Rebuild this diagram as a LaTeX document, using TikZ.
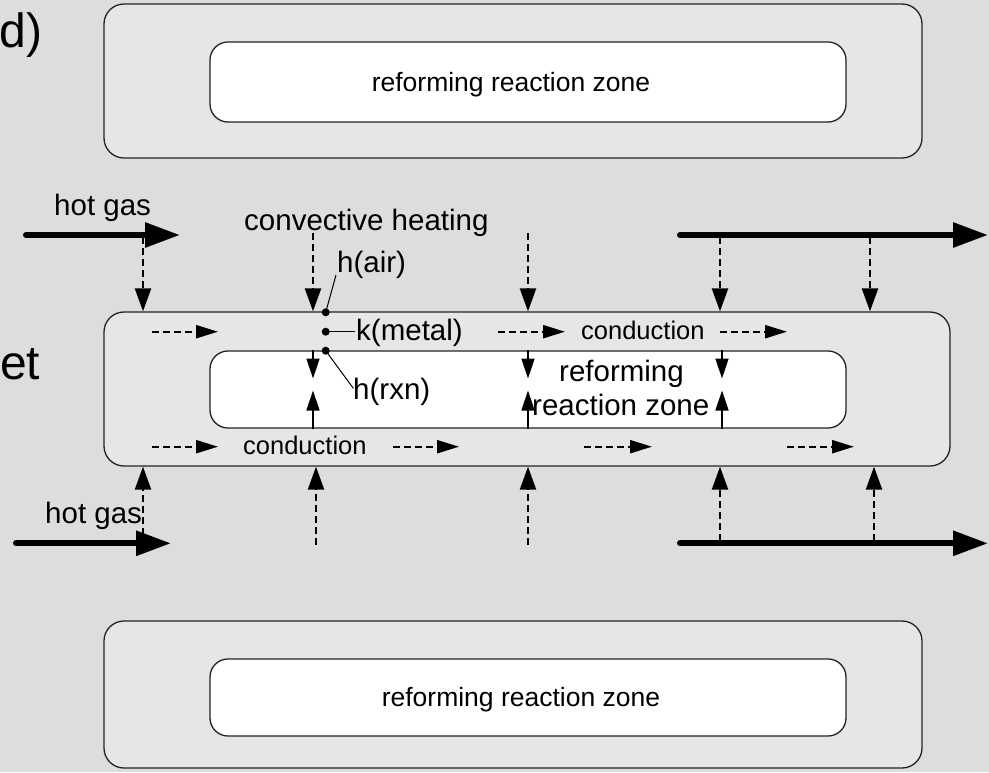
\documentclass[tikz,border=0pt]{standalone}
\usepackage{fontspec}
\setmainfont{Liberation Sans}
\usetikzlibrary{arrows.meta}
\definecolor{bg}{RGB}{221,221,221}
\definecolor{boxfill}{RGB}{230,230,230}
\definecolor{edge}{RGB}{35,35,35}
\begin{document}
\begin{tikzpicture}[x=1pt,y=-1pt,
  outerbox/.style={draw=edge, line width=1.3pt, fill=boxfill, rounded corners=20pt, rectangle, inner sep=0pt},
  innerbox/.style={draw=edge, line width=1.3pt, fill=white, rounded corners=18pt, rectangle, inner sep=0pt},
  hotarrow/.style={line width=6pt, line cap=round, -{Triangle[length=35pt,width=24pt]}},
  heatarrow/.style={line width=2.4pt, dash pattern=on 7pt off 4pt, -{Triangle[length=23pt,width=16pt]}},
  condarrow/.style={line width=2.3pt, dash pattern=on 7pt off 4pt, -{Triangle[length=22pt,width=13pt]}},
  solidarrow/.style={line width=1.5pt, -{Triangle[length=20pt,width=13pt]}},
  lbl/.style={inner sep=0pt, anchor=base west, font=\fontsize{29.5}{34}\selectfont},
  smalllbl/.style={inner sep=0pt, anchor=base west, font=\fontsize{25.5}{30}\selectfont},
  zonelbl/.style={inner sep=0pt, anchor=base, font=\fontsize{26.5}{30}\selectfont},
  biglbl/.style={inner sep=0pt, anchor=base west, font=\fontsize{48}{56}\selectfont},
  dotm/.style={circle, fill=black, inner sep=0pt, minimum size=8pt},
  leader/.style={line width=1pt}
]
\fill[bg] (0,0) rectangle (989,772);
\useasboundingbox (0,0) rectangle (989,772);

% cut-off labels at the left
\node[biglbl] (dlab) at (-0.5,47) {d)};
\node[biglbl] (etlab) at (0,379) {et};

% top block
\node[outerbox, minimum width=818pt, minimum height=154pt] (topout) at (513,81) {};
\node[innerbox, minimum width=636pt, minimum height=80pt] (topin) at (528,82) {};
\node[zonelbl] (toptxt) at (511,91) {reforming reaction zone};

% middle block
\node[outerbox, minimum width=846pt, minimum height=154pt] (mid) at (527,389) {};
\node[innerbox, minimum width=636pt, minimum height=77pt] (midin) at (528,389.5) {};
\node[lbl] (ref1) at (559,381) {reforming};
\node[lbl] (ref2) at (532,415.7) {reaction zone};

% bottom block
\node[outerbox, minimum width=818pt, minimum height=147pt] (botout) at (513,694.5) {};
\node[innerbox, minimum width=636pt, minimum height=77pt] (botin) at (528,697.5) {};
\node[zonelbl] (bottxt) at (521,706) {reforming reaction zone};

% hot gas streams
\coordinate (hgA) at (26,235);
\coordinate (hgAe) at (180,235);
\coordinate (hgB) at (680,235);
\coordinate (hgBe) at (988,235);
\coordinate (hgC) at (16,543.3);
\coordinate (hgCe) at (171,543.3);
\coordinate (hgD) at (680,543.3);
\coordinate (hgDe) at (988,543.3);
\draw[hotarrow] (hgA) -- (hgAe);
\draw[hotarrow] (hgB) -- (hgBe);
\draw[hotarrow] (hgC) -- (hgCe);
\draw[hotarrow] (hgD) -- (hgDe);
\node[lbl] (hgtop) at (54,215) {hot gas};
\node[lbl] (hgbot) at (45,523) {hot gas};
\node[lbl] (conv) at (244,230.7) {convective heating};

% convective heating arrows (top, downward)
\coordinate (t1) at (143,237);
\coordinate (t2) at (313,233);
\coordinate (t3) at (528,233);
\coordinate (t4) at (720,237);
\coordinate (t5) at (870,237);
\foreach \c in {t1,t2,t3,t4,t5}
  \draw[heatarrow] (\c) -- (\c |- mid.north);

% convective heating arrows (bottom, upward)
\coordinate (b1) at (143,535);
\coordinate (b2) at (316,545);
\coordinate (b3) at (528,545);
\coordinate (b4) at (720,541);
\coordinate (b5) at (874,541);
\foreach \c in {b1,b2,b3,b4,b5}
  \draw[heatarrow] (\c) -- (\c |- mid.south);

% conduction arrows in the metal
\coordinate (ca1) at (152,331.7); \coordinate (ca1e) at (218,331.7);
\coordinate (ca2) at (498,331.7); \coordinate (ca2e) at (565,331.7);
\coordinate (ca3) at (720,331.7); \coordinate (ca3e) at (787,331.7);
\coordinate (cb1) at (152,446.7); \coordinate (cb1e) at (218,446.7);
\coordinate (cb2) at (393,446.7); \coordinate (cb2e) at (459,446.7);
\coordinate (cb3) at (584,446.7); \coordinate (cb3e) at (652,446.7);
\coordinate (cb4) at (787,446.7); \coordinate (cb4e) at (854,446.7);
\foreach \c in {ca1,ca2,ca3,cb1,cb2,cb3,cb4}
  \draw[condarrow] (\c) -- (\c e);
\node[smalllbl] (condtop) at (581,339) {conduction};
\node[smalllbl] (condbot) at (243,454.3) {conduction};

% heat into reaction zone
\foreach \x in {313,528,722} {
  \coordinate (dn\x) at (\x,378.5);
  \coordinate (up\x) at (\x,390.5);
  \draw[solidarrow] (\x,0 |- midin.north) -- (dn\x);
  \draw[solidarrow] (\x,0 |- midin.south) -- (up\x);
}

% resistance points and labels
\node[dotm] (dair) at (325.7,312.3) {};
\node[dotm] (dmet) at (325.7,331.7) {};
\node[dotm] (drxn) at (325.7,350.7) {};
\node[lbl] (hair) at (337,272.7) {h(air)};
\node[lbl] (kmet) at (356,340.7) {k(metal)};
\node[lbl] (hrxn) at (353,399) {h(rxn)};
\coordinate (hairpt) at (336,275);
\coordinate (kmetpt) at (355,331.7);
\coordinate (hrxnpt) at (353.3,388.3);
\draw[leader] (dair.center) -- (hairpt);
\draw[leader] (dmet.center) -- (kmetpt);
\draw[leader] (drxn.center) -- (hrxnpt);
\end{tikzpicture}
\end{document}
